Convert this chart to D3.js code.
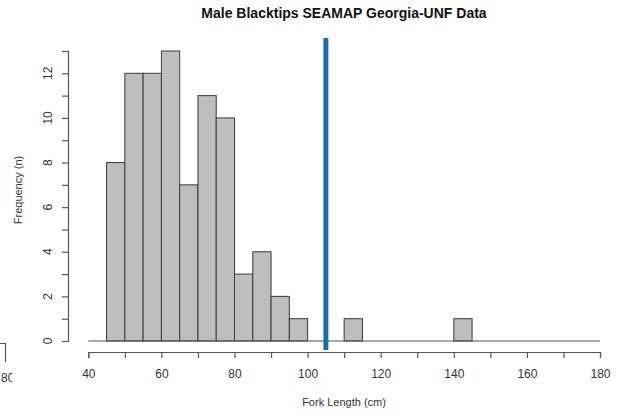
<!DOCTYPE html>
<html><head><meta charset="utf-8">
<script src="https://cdn.jsdelivr.net/npm/d3@7"></script>
<style>body{margin:0;background:#fff;} text{font-family:"Liberation Sans",Arial,sans-serif;}</style>
</head><body>
<svg id="c" width="618" height="419"></svg>
<script>
const binStarts = [45,50,55,60,65,70,75,80,85,90,95,100,105,110,115,120,125,130,135,140];
const counts    = [8,12,12,13,7,11,10,3,4,2,1,0,0,1,0,0,0,0,0,1];
const binWidth = 5;
const xTicks = [40,60,80,100,120,140,160,180];
const xMinor = [50,70,90,110,130,150,170];
const yTicks = [0,2,4,6,8,10,12];
const yMinor = [1,3,5,7,9,11,13];
const refLine = 105;
const title = "Male Blacktips SEAMAP Georgia-UNF Data";
const xLabel = "Fork Length (cm)";
const yLabel = "Frequency (n)";

const svg = d3.select("#c");
const x = d3.scaleLinear().domain([40,180]).range([88.3,600]);
const y = d3.scaleLinear().domain([0,13]).range([341,51]);
const axisCol = "#555";

// bars
const data = binStarts.map((s,i)=>({s, c:counts[i]})).filter(d=>d.c>0);
svg.append("g").selectAll("rect").data(data).join("rect")
  .attr("x", d=>x(d.s)).attr("width", d=>x(d.s+binWidth)-x(d.s))
  .attr("y", d=>y(d.c)).attr("height", d=>y(0)-y(d.c))
  .attr("fill","#bebebe").attr("stroke","#3a3a3a").attr("stroke-width",1);

// baseline
svg.append("line").attr("x1",x(40)).attr("x2",x(180)).attr("y1",y(0)).attr("y2",y(0))
  .attr("stroke",axisCol).attr("stroke-width",1.2);

// x axis
const xg = svg.append("g").attr("transform","translate(0,352)");
xg.call(d3.axisBottom(x).tickValues(xTicks.concat(xMinor).sort((a,b)=>a-b))
  .tickSize(6).tickFormat(d=>xTicks.includes(d)?d:""));
xg.select(".domain").attr("stroke",axisCol).attr("stroke-width",1.2);
xg.selectAll(".tick line").attr("stroke",axisCol).attr("stroke-width",1.2);
xg.selectAll(".tick text").attr("font-size",12).attr("fill","#333").attr("dy","1.45em")
  .style("font-family","Liberation Sans, Arial, sans-serif");

// y axis
const yg = svg.append("g").attr("transform","translate(68,0)");
yg.call(d3.axisLeft(y).tickValues(yTicks.concat(yMinor).sort((a,b)=>a-b))
  .tickSize(6).tickFormat(""));
yg.select(".domain").attr("stroke",axisCol).attr("stroke-width",1.2);
yg.selectAll(".tick line").attr("stroke",axisCol).attr("stroke-width",1.2);
svg.append("g").selectAll("text").data(yTicks).join("text")
  .attr("transform", d=>`translate(52,${y(d)}) rotate(-90)`)
  .attr("text-anchor","middle").attr("font-size",12).attr("fill","#333")
  .text(d=>d);

// reference line
svg.append("line").attr("x1",x(refLine)).attr("x2",x(refLine)).attr("y1",38).attr("y2",350)
  .attr("stroke","#1a6db5").attr("stroke-width",5);

// title & labels
svg.append("text").attr("x",344).attr("y",18).attr("text-anchor","middle")
  .attr("font-size",14).attr("font-weight","bold").attr("fill","#111").text(title);
svg.append("text").attr("x",344).attr("y",406).attr("text-anchor","middle")
  .attr("font-size",11).attr("fill","#333").text(xLabel);
svg.append("text").attr("transform","translate(22,190) rotate(-90)").attr("text-anchor","middle")
  .attr("font-size",11).attr("fill","#333").text(yLabel);

// clipped fragment of a neighbouring plot at left edge
svg.append("defs").append("clipPath").attr("id","frag").append("rect")
  .attr("x",0).attr("y",330).attr("width",12).attr("height",60);
const frag = svg.append("g").attr("clip-path","url(#frag)");
frag.append("path").attr("d","M0,343.5H5.5V362").attr("fill","none").attr("stroke",axisCol).attr("stroke-width",1.2);
frag.append("text").attr("x",1).attr("y",382).attr("font-size",12).attr("fill","#333").text("80");
</script>
</body></html>
